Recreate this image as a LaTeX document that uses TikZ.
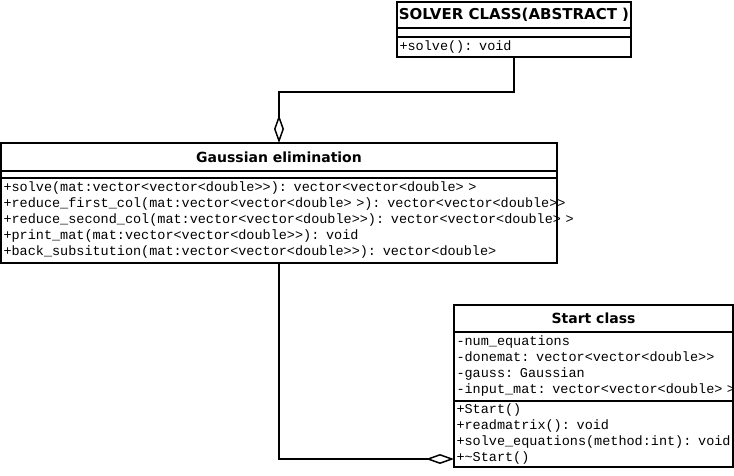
\documentclass[tikz,border=0pt]{standalone}
\usepackage{fontspec}
\setmonofont{Liberation Mono}
\newfontfamily\umlhead{DejaVu Sans}
\usetikzlibrary{arrows.meta,shapes,positioning}
\tikzset{
    raw box/.style={rectangle, draw, line width=1.5pt, inner sep=0pt, outer sep=0pt},
    class head/.style={raw box, font=\umlhead\bfseries\fontsize{14}{16}\selectfont, align=center},
    class part/.style={raw box, font=\ttfamily\fontsize{13.5}{16}\selectfont, align=left, inner xsep=2.5pt},
    aggregation/.style={line width=1.5pt, -{Diamond[open, length=28pt, width=10pt]}}
}

\begin{document}
\begin{tikzpicture}[x=1pt, y=-1pt, node distance=0pt]
	\useasboundingbox (0,0) rectangle (734,475);
	% abstract solver
	\node[class head, font=\umlhead\bfseries\fontsize{15}{16}\selectfont, minimum width=234pt, minimum height=26pt, anchor=north west] (solverhead) at (397,2) {SOLVER CLASS(ABSTRACT )};
	\node[raw box, minimum width=234pt, minimum height=9pt, below=of solverhead] (solverattr) {};
	\node[class part, text width=229pt, minimum height=20pt, below=of solverattr] (solverops) {\mbox{+solve(): void}};
	% gaussian elimination
	\node[class head, minimum width=556pt, minimum height=28pt, anchor=north west] (gausshead) at (1,143) {Gaussian elimination};
	\node[raw box, minimum width=556pt, minimum height=7pt, below=of gausshead] (gaussattr) {};
	\node[class part, text width=551pt, minimum height=85pt, below=of gaussattr] (gaussops) {%
		\mbox{+solve(mat:vector<vector<double>>): vector<vector<double> >}\\
		\mbox{+reduce\_first\_col(mat:vector<vector<double> >): vector<vector<double>>}\\
		\mbox{+reduce\_second\_col(mat:vector<vector<double>>): vector<vector<double> >}\\
		\mbox{+print\_mat(mat:vector<vector<double>>): void}\\
		\mbox{+back\_subsitution(mat:vector<vector<double>>): vector<double>}};
	% start class
	\node[class head, minimum width=279pt, minimum height=27pt, anchor=north west] (starthead) at (454,305) {Start class};
	\node[class part, text width=274pt, minimum height=69pt, below=of starthead] (startattr) {%
		\mbox{-num\_equations}\\
		\mbox{-donemat: vector<vector<double>>}\\
		\mbox{-gauss: Gaussian}\\
		\mbox{-input\_mat: vector<vector<double> >}};
	\node[class part, text width=274pt, minimum height=66pt, below=of startattr] (startops) {%
		\mbox{+Start()}\\
		\mbox{+readmatrix(): void}\\
		\mbox{+solve\_equations(method:int): void}\\
		\mbox{+\textasciitilde Start()}};
	% aggregations
	\coordinate (startjoin) at ([yshift=8pt]startops.south west);
	\draw[aggregation] (solverops.south) -- ++(0,35) -| (gausshead.north);
	\draw[aggregation] (gaussops.south) |- (startjoin);
\end{tikzpicture}
\end{document}
